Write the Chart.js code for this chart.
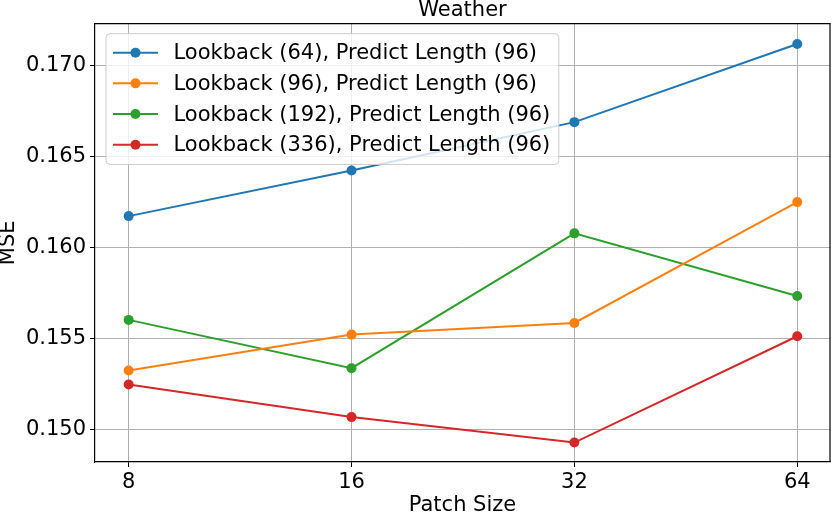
<!DOCTYPE html>
<html>
<head>
<meta charset="utf-8">
<script src="https://cdn.jsdelivr.net/npm/chart.js@4/dist/chart.umd.min.js"></script>
<style>
  html, body { margin: 0; padding: 0; background: #fff; overflow: hidden; }
  canvas { display: block; }
</style>
</head>
<body>
<canvas id="grafico" width="831" height="518"></canvas>
<script>
// dados
const patchSizes = ['8', '16', '32', '64'];
const yTicks = [0.150, 0.155, 0.160, 0.165, 0.170];
const nomesSeries = [
    'Lookback (64), Predict Length (96)',
    'Lookback (96), Predict Length (96)',
    'Lookback (192), Predict Length (96)',
    'Lookback (336), Predict Length (96)'
];
const mseLookback64 = [0.16172, 0.16423, 0.16689, 0.17119];
const mseLookback96 = [0.15322, 0.15520, 0.15584, 0.16249];
const mseLookback192 = [0.15601, 0.15335, 0.16077, 0.15732];
const mseLookback336 = [0.15245, 0.15066, 0.14926, 0.15511];
const cores = ['#1f77b4', '#ff7f0e', '#2ca02c', '#d62728'];

const fonte = 'DejaVu Sans';
Chart.defaults.font.family = fonte;
Chart.defaults.color = '#000';

function criarSerie(nome, valores, cor) {
    return {
        label: nome,
        data: valores.map((v, i) => ({ x: i, y: v })),
        borderColor: cor,
        backgroundColor: cor,
        borderWidth: 2,
        pointRadius: 5,
        pointHoverRadius: 5,
        pointBorderWidth: 0,
        tension: 0
    };
}

// moldura completa (topo e direita) como no matplotlib
const moldura = {
    id: 'moldura',
    afterDatasetsDraw(chart) {
        const c = chart.ctx;
        const a = chart.chartArea;
        c.save();
        c.strokeStyle = '#000';
        c.lineWidth = 1.2;
        c.beginPath();
        c.moveTo(a.left, a.top);
        c.lineTo(a.right, a.top);
        c.lineTo(a.right, a.bottom);
        c.stroke();
        c.restore();
    }
};

// legenda dentro da área do gráfico, estilo matplotlib
const legendaInterna = {
    id: 'legendaInterna',
    afterDraw(chart) {
        const c = chart.ctx;
        const area = chart.chartArea;
        c.save();
        c.font = '21px "' + fonte + '"';
        let largura = 0;
        chart.data.datasets.forEach(ds => {
            largura = Math.max(largura, c.measureText(ds.label).width);
        });
        const x0 = area.left + 11;
        const y0 = area.top + 10;
        const passo = 30.7;
        const w = 67 + largura + 9;
        const h = chart.data.datasets.length * passo + 8;
        c.beginPath();
        c.roundRect(x0, y0, w, h, 4);
        c.fillStyle = 'rgba(255,255,255,0.8)';
        c.fill();
        c.strokeStyle = '#cccccc';
        c.lineWidth = 1;
        c.stroke();
        chart.data.datasets.forEach((ds, i) => {
            const cy = y0 + 19 + i * passo;
            c.strokeStyle = ds.borderColor;
            c.lineWidth = 2;
            c.beginPath();
            c.moveTo(x0 + 7, cy);
            c.lineTo(x0 + 52, cy);
            c.stroke();
            c.fillStyle = ds.borderColor;
            c.beginPath();
            c.arc(x0 + 29.5, cy, 5, 0, Math.PI * 2);
            c.fill();
            c.fillStyle = '#000';
            c.textBaseline = 'middle';
            c.textAlign = 'left';
            c.fillText(ds.label, x0 + 67.5, cy + 1);
        });
        c.restore();
    }
};

const ctx = document.getElementById('grafico').getContext('2d');
const grafico = new Chart(ctx, {
    type: 'line',
    data: {
        datasets: [
            criarSerie(nomesSeries[0], mseLookback64, cores[0]),
            criarSerie(nomesSeries[1], mseLookback96, cores[1]),
            criarSerie(nomesSeries[2], mseLookback192, cores[2]),
            criarSerie(nomesSeries[3], mseLookback336, cores[3])
        ]
    },
    options: {
        responsive: false,
        animation: false,
        devicePixelRatio: 1,
        layout: { autoPadding: false, padding: { left: 0, right: 1, top: 0, bottom: 0 } },
        plugins: {
            legend: { display: false },
            tooltip: { enabled: false },
            title: {
                display: true,
                fullSize: false,
                text: 'Weather',
                font: { size: 21, weight: 'normal', lineHeight: 1.05 },
                padding: { top: 0, bottom: 1.6 },
                color: '#000'
            }
        },
        scales: {
            x: {
                type: 'linear',
                min: -0.151,
                max: 3.147,
                afterBuildTicks: s => { s.ticks = patchSizes.map((p, i) => ({ value: i })); },
                afterFit: s => { s.height = 56; },
                ticks: {
                    callback: v => patchSizes[v],
                    font: { size: 21 },
                    padding: 3,
                    maxRotation: 0
                },
                grid: { color: '#b0b0b0', lineWidth: 1, tickLength: 5, tickColor: '#000' },
                border: { color: '#000', width: 1.2 },
                title: {
                    display: true,
                    text: 'Patch Size',
                    font: { size: 21 },
                    padding: { top: 0, bottom: 0 }
                }
            },
            y: {
                min: 0.14819,
                max: 0.17231,
                afterBuildTicks: s => { s.ticks = yTicks.map(v => ({ value: v })); },
                afterFit: s => { s.width = 95; },
                ticks: {
                    callback: v => v.toFixed(3),
                    font: { size: 21 },
                    padding: 4
                },
                grid: { color: '#b0b0b0', lineWidth: 1, tickLength: 5, tickColor: '#000' },
                border: { color: '#000', width: 1.2 },
                title: {
                    display: true,
                    text: 'MSE',
                    font: { size: 21, lineHeight: 0.8 },
                    padding: { top: 0, bottom: 0 }
                }
            }
        }
    },
    plugins: [moldura, legendaInterna]
});
</script>
</body>
</html>
